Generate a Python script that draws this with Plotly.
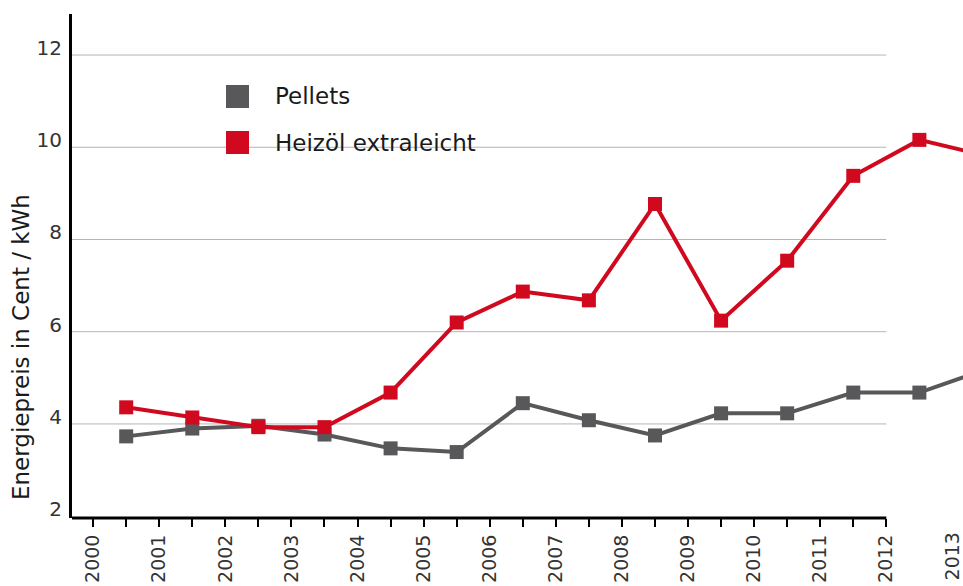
import plotly.graph_objects as go

years = list(range(2000, 2014))
tick_labels = [str(y) for y in years]
pellets = [3.73, 3.90, 3.96, 3.77, 3.47, 3.39, 4.45, 4.08, 3.75, 4.23, 4.23, 4.68, 4.68, 5.18]
heizoel = [4.36, 4.14, 3.93, 3.93, 4.68, 6.20, 6.87, 6.68, 8.77, 6.24, 7.54, 9.38, 10.16, 9.82]
series_names = ["Pellets", "Heizöl extraleicht"]
colors = ["#58585a", "#d0091e"]
y_ticks = [2, 4, 6, 8, 10, 12]
grid_ticks = [4, 6, 8, 10, 12]

W, H = 963, 586
L, R, T, B = 72, 0, 14, 68
pw, ph = W - L - R, H - T - B
xmin, xmax = 1999.68, 2013.16
ymin, ymax = 1.96, 12.89
last_axis_year = 2012

def px_x(p):
    return (p - L) / pw

def px_y(p):
    return (H - B - p) / ph

xs = [y + 0.5 for y in years]
font = "'DejaVu Sans', sans-serif"

fig = go.Figure()
for name, vals, col in zip(series_names, [pellets, heizoel], colors):
    fig.add_trace(go.Scatter(x=xs, y=vals, mode="lines+markers", name=name,
                             line=dict(color=col, width=4),
                             marker=dict(symbol="square", size=14, color=col),
                             showlegend=False, hoverinfo="skip"))

shapes = []
for g in grid_ticks:
    shapes.append(dict(type="line", xref="x", yref="y", x0=xmin, x1=last_axis_year, y0=g, y1=g,
                       line=dict(color="#b4b4b4", width=1), layer="below"))
# legend background
shapes.append(dict(type="rect", xref="paper", yref="paper", x0=px_x(145), x1=px_x(552),
                   y0=px_y(195), y1=px_y(35), fillcolor="white", line=dict(width=0), layer="below"))
# x axis line up to 2012
shapes.append(dict(type="line", xref="x", yref="paper", x0=xmin, x1=last_axis_year, y0=0, y1=0,
                   line=dict(color="black", width=3)))
# legend squares
leg_y = [96.5, 142.5]
for col, cy in zip(colors, leg_y):
    shapes.append(dict(type="rect", xref="paper", yref="paper", x0=px_x(226), x1=px_x(249),
                       y0=px_y(cy + 11.5), y1=px_y(cy - 11.5), fillcolor=col, line=dict(width=0)))

annotations = []
for name, cy in zip(series_names, leg_y):
    annotations.append(dict(xref="paper", yref="paper", x=px_x(273), y=px_y(cy), text=name,
                            showarrow=False, xanchor="left", yanchor="middle",
                            font=dict(family=font, size=23, color="#1a1a1a")))
annotations.append(dict(xref="paper", yref="paper", x=px_x(21), y=px_y(347),
                        text="Energiepreis in Cent / kWh", textangle=-90, showarrow=False,
                        xanchor="center", yanchor="middle",
                        font=dict(family=font, size=23, color="#1a1a1a")))
annotations.append(dict(xref="x", yref="paper", x=years[-1], y=0, yshift=-12, text=tick_labels[-1],
                        textangle=-90, showarrow=False, xanchor="center", yanchor="top",
                        font=dict(family=font, size=19, color="#333333")))

fig.update_layout(
    width=W, height=H, margin=dict(l=L, r=R, t=T, b=B, pad=0, autoexpand=False),
    paper_bgcolor="white", plot_bgcolor="white",
    shapes=shapes, annotations=annotations, showlegend=False,
    xaxis=dict(range=[xmin, xmax], showgrid=False, zeroline=False, showline=False,
               automargin=False,
               tickmode="array", tickvals=years[:-1], ticktext=tick_labels[:-1],
               tickangle=-90, ticks="outside", ticklen=8, tickwidth=2, tickcolor="black",
               minor=dict(tickvals=[y + 0.5 for y in years[:-2]], ticks="outside", ticklen=8,
                          tickwidth=2, tickcolor="black"),
               tickfont=dict(family=font, size=19, color="#333333")),
    yaxis=dict(range=[ymin, ymax], showgrid=False, zeroline=False, showline=True,
               automargin=False,
               linecolor="black", linewidth=3, tickmode="array", tickvals=y_ticks,
               ticks="", ticklabelshift=-7, ticklabelstandoff=3,
               tickfont=dict(family=font, size=20, color="#333333")),
)

fig.write_html("out.html", config={"displayModeBar": False},
               post_script="document.body.style.margin='0';document.body.style.overflow='hidden';")
